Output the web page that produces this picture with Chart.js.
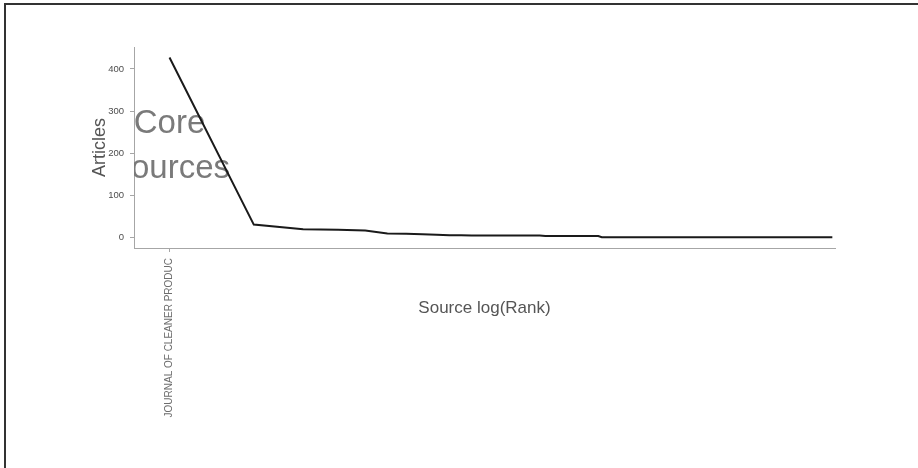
<!DOCTYPE html>
<html>
<head>
<meta charset="utf-8">
<script src="https://cdn.jsdelivr.net/npm/chart.js@4/dist/chart.umd.min.js"></script>
<style>
  html, body { margin: 0; padding: 0; background: #fff; }
  #wrap { position: relative; width: 918px; height: 468px; overflow: hidden; }
  #frame { position: absolute; left: 4px; top: 3px; width: 2000px; height: 2000px;
           border-left: 2px solid #333; border-top: 2px solid #333; pointer-events: none; }
  canvas { position: absolute; left: 0; top: 0; }
</style>
</head>
<body>
<div id="wrap">
  <canvas id="chart" width="918" height="468"></canvas>
  <div id="frame"></div>
</div>
<script>
// Articles per source, sources sorted by rank (Bradford's law)
const articles = [
  427, 31, 20, 19, 17, 10, 9, 8, 7, 6, 6,
  5, 5, 5, 5, 5, 5, 5, 5, 5, 5,
  4, 4, 4, 4, 4, 4, 4, 4, 4, 4, 4, 4, 4,
  1, 1, 1, 1, 1, 1, 1, 1, 1, 1, 1, 1, 1, 1, 1, 1, 1, 1, 1, 1,
  1, 1, 1, 1, 1, 1, 1, 1, 1, 1, 1, 1, 1, 1, 1, 1, 1, 1, 1, 1,
  1, 1, 1, 1, 1, 1, 1, 1, 1, 1, 1, 1, 1, 1, 1, 1, 1, 1, 1, 1,
  1, 1, 1, 1, 1, 1, 1, 1, 1, 1, 1, 1, 1, 1, 1, 1, 1, 1, 1, 1,
  1, 1, 1, 1, 1, 1, 1, 1, 1, 1, 1, 1, 1, 1, 1, 1, 1, 1, 1, 1,
  1, 1, 1, 1, 1, 1, 1, 1, 1, 1, 1, 1, 1, 1, 1, 1, 1, 1, 1, 1,
  1, 1, 1, 1, 1, 1, 1, 1, 1, 1, 1, 1, 1, 1, 1, 1, 1, 1, 1, 1,
  1, 1, 1, 1, 1, 1, 1, 1, 1, 1, 1, 1, 1, 1, 1, 1, 1, 1, 1, 1,
  1, 1, 1, 1, 1, 1, 1, 1, 1, 1, 1, 1, 1, 1, 1, 1, 1, 1, 1, 1,
  1, 1, 1, 1, 1, 1, 1, 1, 1, 1, 1, 1, 1, 1, 1, 1, 1, 1, 1, 1
];

// Core sources (zone 1) shown as x tick labels
const coreRanks = [1];
const coreNames = ["JOURNAL OF CLEANER PRODUC"];

// Y axis ticks
const yTicks = [0, 100, 200, 300, 400];

// Zone annotation
const zoneLabel = ["Core", "Sources"];
const zoneLabelRank = 1;
const zoneLabelArticles = 225;

const points = articles.map((v, i) => ({ x: Math.log(i + 1), y: v }));

const FONT = "'Liberation Sans', Arial, sans-serif";
Chart.defaults.font.family = FONT;

const decorations = {
  id: 'decorations',
  beforeDatasetsDraw(chart) {
    const { ctx, chartArea: a, scales } = chart;
    ctx.save();
    ctx.beginPath();
    ctx.rect(a.left, a.top, a.right - a.left, a.bottom - a.top);
    ctx.clip();
    ctx.fillStyle = '#7a7a7a';
    ctx.font = '33px ' + FONT;
    ctx.textAlign = 'center';
    ctx.textBaseline = 'alphabetic';
    const cx = scales.x.getPixelForValue(Math.log(zoneLabelRank));
    const cy = scales.y.getPixelForValue(zoneLabelArticles);
    ctx.fillText(zoneLabel[0], cx, cy - 10);
    ctx.fillText(zoneLabel[1], cx, cy + 35);
    ctx.restore();
  },
  afterDraw(chart) {
    const { ctx, chartArea: a } = chart;
    ctx.save();
    ctx.fillStyle = '#555';
    ctx.textAlign = 'center';
    ctx.textBaseline = 'alphabetic';
    ctx.font = '17px ' + FONT;
    ctx.fillText('Source log(Rank)', (a.left + a.right) / 2, a.bottom + 65);
    ctx.translate(a.left - 29, (a.top + a.bottom) / 2);
    ctx.rotate(-Math.PI / 2);
    ctx.font = '18px ' + FONT;
    ctx.fillText('Articles', 0, 0);
    ctx.restore();
  }
};

new Chart(document.getElementById('chart'), {
  type: 'line',
  data: {
    datasets: [{
      data: points,
      borderColor: '#1a1a1a',
      borderWidth: 2,
      pointRadius: 0,
      tension: 0,
      fill: false
    }]
  },
  options: {
    responsive: false,
    animation: false,
    devicePixelRatio: 1,
    layout: { padding: { top: 47, right: 83, left: 0, bottom: 0 } },
    plugins: { legend: { display: false }, tooltip: { enabled: false } },
    scales: {
      x: {
        type: 'linear',
        min: -0.292,
        max: 5.473,
        afterFit(s) { s.height = 220; },
        afterBuildTicks(s) { s.ticks = coreRanks.map(r => ({ value: Math.log(r) })); },
        border: { display: true, color: '#a6a6a6', width: 1 },
        grid: { display: true, drawOnChartArea: false, drawTicks: true, tickLength: 4, color: '#a6a6a6' },
        ticks: {
          minRotation: 90,
          maxRotation: 90,
          autoSkip: false,
          padding: 6,
          color: '#6e6e6e',
          font: { size: 10 },
          callback(value, index) { return coreNames[index]; }
        }
      },
      y: {
        type: 'linear',
        min: -24.5,
        max: 452,
        afterFit(s) { s.width = 134; },
        afterBuildTicks(s) { s.ticks = yTicks.map(v => ({ value: v })); },
        border: { display: true, color: '#a6a6a6', width: 1 },
        grid: { display: true, drawOnChartArea: false, drawTicks: true, tickLength: 4, color: '#a6a6a6' },
        ticks: {
          padding: 6,
          color: '#4d4d4d',
          font: { size: 9.5 },
          callback(value) { return String(value); }
        }
      }
    }
  },
  plugins: [decorations]
});
</script>
</body>
</html>
